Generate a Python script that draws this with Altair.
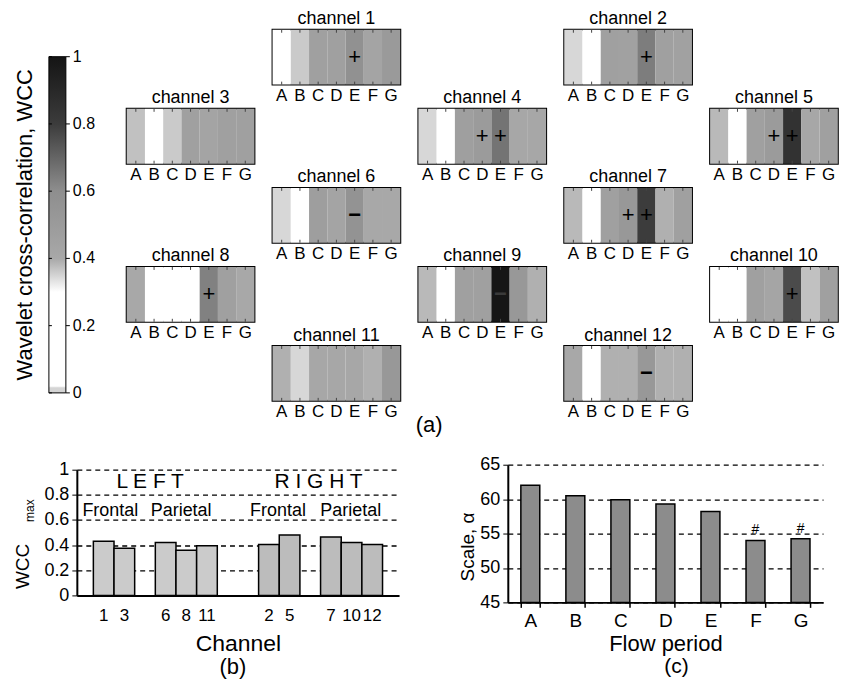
import altair as alt
import pandas as pd

FONT = "Liberation Sans"

# ---------------- panel (a): WCC per flow period, 12 channels ----------------
periods = ["A", "B", "C", "D", "E", "F", "G"]
wcc_ch1 = [0.25, 0.36, 0.46, 0.46, 0.58, 0.43, 0.51]
wcc_ch2 = [0.345, 0.25, 0.46, 0.45, 0.64, 0.46, 0.45]
wcc_ch3 = [0.37, 0.25, 0.36, 0.46, 0.43, 0.46, 0.46]
wcc_ch4 = [0.345, 0.25, 0.47, 0.50, 0.66, 0.41, 0.41]
wcc_ch5 = [0.38, 0.25, 0.46, 0.50, 0.85, 0.41, 0.46]
wcc_ch6 = [0.345, 0.25, 0.48, 0.43, 0.56, 0.40, 0.40]
wcc_ch7 = [0.38, 0.25, 0.46, 0.52, 0.80, 0.39, 0.46]
wcc_ch8 = [0.40, 0.25, 0.25, 0.25, 0.63, 0.46, 0.40]
wcc_ch9 = [0.38, 0.25, 0.46, 0.46, 0.99, 0.52, 0.39]
wcc_ch10 = [0.25, 0.25, 0.46, 0.42, 0.76, 0.37, 0.46]
wcc_ch11 = [0.39, 0.345, 0.41, 0.41, 0.41, 0.39, 0.52]
wcc_ch12 = [0.40, 0.25, 0.39, 0.39, 0.52, 0.39, 0.39]

sig_ch1 = ["", "", "", "", "+", "", ""]
sig_ch2 = ["", "", "", "", "+", "", ""]
sig_ch3 = ["", "", "", "", "", "", ""]
sig_ch4 = ["", "", "", "+", "+", "", ""]
sig_ch5 = ["", "", "", "+", "+", "", ""]
sig_ch6 = ["", "", "", "", "\u2212", "", ""]
sig_ch7 = ["", "", "", "+", "+", "", ""]
sig_ch8 = ["", "", "", "", "+", "", ""]
sig_ch9 = ["", "", "", "", "\u2212", "", ""]
sig_ch10 = ["", "", "", "", "+", "", ""]
sig_ch11 = ["", "", "", "", "", "", ""]
sig_ch12 = ["", "", "", "", "\u2212", "", ""]

WCC = {1: wcc_ch1, 2: wcc_ch2, 3: wcc_ch3, 4: wcc_ch4, 5: wcc_ch5, 6: wcc_ch6,
       7: wcc_ch7, 8: wcc_ch8, 9: wcc_ch9, 10: wcc_ch10, 11: wcc_ch11, 12: wcc_ch12}
SIG = {1: sig_ch1, 2: sig_ch2, 3: sig_ch3, 4: sig_ch4, 5: sig_ch5, 6: sig_ch6,
       7: sig_ch7, 8: sig_ch8, 9: sig_ch9, 10: sig_ch10, 11: sig_ch11, 12: sig_ch12}

# montage grid (0 = empty cell)
layout_rows = [
    [0, 1, 0, 2, 0],
    [3, 0, 4, 0, 5],
    [0, 6, 0, 7, 0],
    [8, 0, 9, 0, 10],
    [0, 11, 0, 12, 0],
]

# colour map of the colour bar
cmap_stops = [0.0, 0.015, 0.02, 0.3, 0.4, 0.6, 0.8, 1.0]
cmap_colors = ["#d4d4d4", "#d4d4d4", "#ffffff", "#ffffff", "#a8a8a8", "#8e8e8e", "#3c3c3c", "#141414"]
cb_ticks = [0, 0.2, 0.4, 0.6, 0.8, 1]
cb_tick_labels = ["0", "0.2", "0.4", "0.6", "0.8", "1"]
cb_title = "Wavelet cross-correlation, WCC"

# ---------------- panel (b): WCCmax per channel ----------------
b_channels = ["1", "3", "6", "8", "11", "2", "5", "7", "10", "12"]
b_wccmax = [0.43, 0.375, 0.42, 0.36, 0.395, 0.405, 0.48, 0.465, 0.42, 0.405]
b_side = ["LEFT"] * 5 + ["RIGHT"] * 5
b_slots = ["1", "3", " ", "6", "8", "11", "  ", "   ", "2", "5", "    ", "7", "10", "12"]
b_ticks = [0, 0.2, 0.4, 0.6, 0.8, 1]
b_side_text = ["L  E  F  T", "R  I  G  H  T"]
b_side_slot = [" ", "    "]
b_side_band = [0.75, 0.9]
b_side_y = [0.9, 0.9]
b_region_text = ["Frontal", "Parietal", "Frontal", "Parietal"]
b_region_slot = ["1", "8", "2", "10"]
b_region_band = [0.82, 0.25, 0.94, 0.46]
b_region_y = [0.675, 0.675, 0.675, 0.675]

# ---------------- panel (c): scale per flow period ----------------
c_scale = [62.0, 60.5, 59.9, 59.3, 58.2, 54.0, 54.25]
c_flag = ["", "", "", "", "", "#", "#"]
c_ticks = [45, 50, 55, 60, 65]

PW, PH = 128, 55

color_scale = alt.Scale(domain=cmap_stops, range=cmap_colors, clamp=True)


def spacer(w, h):
    return alt.Chart(alt.Data(values=[{"s": 0}])).mark_rect(opacity=0).encode(
        x=alt.value(0), x2=alt.value(w), y=alt.value(0), y2=alt.value(h)
    ).properties(width=w, height=h)


def heat_panel(ch):
    df = pd.DataFrame({"period": periods, "wcc": WCC[ch], "sig": SIG[ch]})
    xs = alt.Scale(domain=periods, paddingInner=0, paddingOuter=0)
    xaxis = alt.Axis(labelAngle=0, labelFontSize=17, labelFont=FONT, labelColor="black",
                     labelPadding=3, ticks=False, domain=False, grid=False, title=None)
    xenc = alt.X("period:N", sort=periods, scale=xs, axis=xaxis)
    base = alt.Chart(df)
    cells = base.mark_rect().encode(x=xenc, color=alt.Color("wcc:Q", scale=color_scale, legend=None))
    tb = base.mark_rule(color="#444", strokeWidth=1).encode(x=xenc, y=alt.value(PH - 3), y2=alt.value(PH))
    tt = base.mark_rule(color="#444", strokeWidth=1).encode(x=xenc, y=alt.value(0), y2=alt.value(3))
    plus = base.transform_filter(alt.datum.sig == "+").mark_text(
        font=FONT, fontSize=22, baseline="middle", color="black").encode(x=xenc, text="sig:N")
    minus = base.transform_filter(alt.datum.sig == "\u2212").mark_text(
        font=FONT, fontSize=22, fontWeight="bold", baseline="middle").encode(
        x=xenc, text="sig:N",
        color=alt.condition(alt.datum.wcc > 0.9, alt.value("#3a3a3a"), alt.value("black")))
    return alt.layer(cells, tb, tt, plus, minus).properties(
        width=PW, height=PH,
        title=alt.TitleParams(f"channel {ch}", fontSize=18, font=FONT, fontWeight="normal", offset=1, color="black"),
        view=alt.ViewBackground(stroke="black", strokeWidth=2),
    )


cells = []
for row in layout_rows:
    for ch in row:
        cells.append(heat_panel(ch) if ch else spacer(PW, PH))
grid = alt.concat(*cells, columns=5, spacing={"row": 24.25, "column": 18.2}, bounds="flush")

# ---------------- colour bar ----------------
CB_TOP, CB_BOTTOM = 27, 364
cb_ys = alt.Scale(domain=[0, 1], range=[CB_BOTTOM, CB_TOP])
gradient = alt.Gradient(
    gradient="linear",
    stops=[alt.GradientStop(offset=v, color=c) for v, c in zip(cmap_stops, cmap_colors)],
    x1=0, x2=0, y1=1, y2=0,
)
cb_df = pd.DataFrame({"lo": [cb_ticks[0]], "hi": [cb_ticks[-1]]})
tick_df = pd.DataFrame({"v": cb_ticks, "lab": cb_tick_labels})
cb_rect = alt.Chart(cb_df).mark_rect(fill=gradient, stroke="black", strokeWidth=1).encode(
    x=alt.value(-28), x2=alt.value(-11),
    y=alt.Y("lo:Q", scale=cb_ys, axis=None), y2="hi:Q")
cb_tick_r = alt.Chart(tick_df).mark_rule(color="black", strokeWidth=1).encode(
    x=alt.value(-11), x2=alt.value(-7), y=alt.Y("v:Q", scale=cb_ys, axis=None))
cb_tick_l = alt.Chart(tick_df).mark_rule(color="black", strokeWidth=1).encode(
    x=alt.value(-28), x2=alt.value(-25), y=alt.Y("v:Q", scale=cb_ys, axis=None))
cb_labels = alt.Chart(tick_df).mark_text(font=FONT, fontSize=16, align="left", baseline="middle",
                                         color="black").encode(
    x=alt.value(-4), y=alt.Y("v:Q", scale=cb_ys, axis=None), text="lab:N")
cb_name = alt.Chart(alt.Data(values=[{"t": cb_title}])).mark_text(
    font=FONT, fontSize=22, angle=270, align="center", baseline="middle", color="black",
    x=-52, y=(CB_TOP + CB_BOTTOM) / 2).encode(text="t:N")
colorbar = alt.layer(cb_rect, cb_tick_r, cb_tick_l, cb_labels, cb_name).properties(width=24, height=CB_BOTTOM)

top = alt.concat(colorbar, grid, spacing=24, align="none").properties(
    title=alt.TitleParams("(a)", orient="bottom", fontSize=22, font=FONT, fontWeight="normal",
                          offset=-6, dx=3, color="black", anchor="middle"))

# ---------------- panel (b) ----------------
B_H = 131
b_df = pd.DataFrame({"channel": b_channels, "wcc": b_wccmax, "side": b_side})
b_xs = alt.Scale(domain=b_slots, paddingInner=0, paddingOuter=0.8)
b_ys = alt.Scale(domain=[0, 1], nice=False, range=[B_H, 5])
b_xaxis = alt.Axis(labelAngle=0, labelFontSize=17, labelFont=FONT, labelColor="black",
                   ticks=False, domain=True, domainColor="black", domainWidth=2,
                   labelPadding=12, title="Channel", titleFontSize=23, titleFont=FONT,
                   titleFontWeight="normal", titleColor="black", titlePadding=9)
b_yaxis = alt.Axis(values=b_ticks, format="~g", labelFontSize=18, labelFont=FONT,
                   labelColor="black", tickSize=5, tickColor="black", domainColor="black",
                   domainWidth=2, grid=True, gridColor="black", gridDash=[5, 4],
                   gridWidth=1.3, title=None, labelPadding=3, labelOverlap=False)
b_bars = alt.Chart(b_df).mark_bar(stroke="black", strokeWidth=1.5).encode(
    x=alt.X("channel:N", scale=b_xs, sort=b_slots, axis=b_xaxis),
    y=alt.Y("wcc:Q", scale=b_ys, axis=b_yaxis),
    color=alt.Color("side:N", scale=alt.Scale(domain=["LEFT", "RIGHT"], range=["#cbcbcb", "#bcbcbc"]),
                    legend=None),
)
b_layers = [b_bars]
for t, s, bp, yv in zip(b_side_text, b_side_slot, b_side_band, b_side_y):
    d = pd.DataFrame({"slot": [s], "y": [yv], "t": [t]})
    b_layers.append(alt.Chart(d).mark_text(font=FONT, fontSize=21, baseline="middle", color="black").encode(
        x=alt.X("slot:N", scale=b_xs, sort=b_slots, axis=b_xaxis, bandPosition=bp),
        y=alt.Y("y:Q", scale=b_ys, axis=b_yaxis), text="t:N"))
for t, s, bp, yv in zip(b_region_text, b_region_slot, b_region_band, b_region_y):
    d = pd.DataFrame({"slot": [s], "y": [yv], "t": [t]})
    b_layers.append(alt.Chart(d).mark_text(font=FONT, fontSize=18, baseline="middle", color="black").encode(
        x=alt.X("slot:N", scale=b_xs, sort=b_slots, axis=b_xaxis, bandPosition=bp),
        y=alt.Y("y:Q", scale=b_ys, axis=b_yaxis), text="t:N"))
b_layers.append(alt.Chart(alt.Data(values=[{"t": "WCC"}])).mark_text(
    font=FONT, fontSize=19, angle=270, align="center", baseline="middle", color="black", x=-54, y=102
).encode(text="t:N"))
b_layers.append(alt.Chart(alt.Data(values=[{"t": "max"}])).mark_text(
    font=FONT, fontSize=12, angle=270, align="center", baseline="middle", color="black", x=-47, y=46
).encode(text="t:N"))
panel_b = alt.layer(*b_layers).properties(
    width=323, height=B_H,
    title=alt.TitleParams("(b)", orient="bottom", fontSize=22, font=FONT, fontWeight="normal",
                          offset=2, dx=-5, color="black", anchor="middle"))

# ---------------- panel (c) ----------------
c_df = pd.DataFrame({"period": periods, "scale": c_scale, "flag": c_flag})
c_xs = alt.Scale(domain=periods, paddingInner=0.58, paddingOuter=0.29)
c_ys = alt.Scale(domain=[c_ticks[0], c_ticks[-1]], nice=False, zero=False)
c_xaxis = alt.Axis(labelAngle=0, labelFontSize=19, labelFont=FONT, labelColor="black",
                   ticks=True, tickBand="extent", tickSize=5, tickColor="black", tickWidth=1.5,
                   domainColor="black", domainWidth=2, labelPadding=4,
                   title="Flow period", titleFontSize=22, titleFont=FONT,
                   titleFontWeight="normal", titleColor="black", titlePadding=3)
c_yaxis = alt.Axis(values=c_ticks, labelFontSize=18, labelFont=FONT, labelColor="black",
                   tickSize=5, tickColor="black", domainColor="black", domainWidth=2,
                   grid=True, gridColor="black", gridDash=[5, 4], gridWidth=1.3,
                   title="Scale, \u03b1", titleFontSize=19, titleFont=FONT, titleY=82,
                   titleFontWeight="normal", titleColor="black", titlePadding=2, labelPadding=3,
                   labelOverlap=False)
c_bars = alt.Chart(c_df).mark_bar(fill="#8c8c8c", stroke="black", strokeWidth=1.5).encode(
    x=alt.X("period:N", scale=c_xs, sort=periods, axis=c_xaxis),
    y=alt.Y("scale:Q", scale=c_ys, axis=c_yaxis),
    y2=alt.datum(c_ticks[0]),
)
c_flags = alt.Chart(c_df).mark_text(font=FONT, fontSize=14, dy=-10, color="black").encode(
    x=alt.X("period:N", scale=c_xs, sort=periods, axis=c_xaxis),
    y=alt.Y("scale:Q", scale=c_ys, axis=c_yaxis), text="flag:N")
panel_c = alt.layer(c_bars, c_flags).properties(
    width=316, height=138,
    title=alt.TitleParams("(c)", orient="bottom", fontSize=21, font=FONT, fontWeight="normal",
                          offset=2, dx=11, color="black", anchor="middle"))

bottom = alt.concat(panel_b, panel_c, spacing=58, align="none")

chart = alt.concat(top, bottom, columns=1, spacing=19, align="none").properties(
    padding={"left": 5, "top": 0, "right": 0, "bottom": 0}
).configure(font=FONT).configure_view(stroke="transparent")

chart.save("out.html", embed_options={"renderer": "svg", "actions": False})
